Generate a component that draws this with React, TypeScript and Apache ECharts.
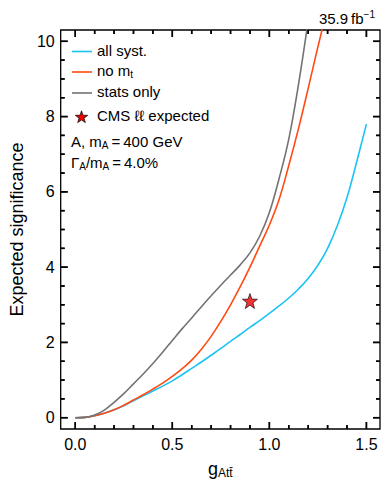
import React, { useEffect, useRef } from "react";
import * as echarts from "echarts";

const gStats = [0, 0.05, 0.1, 0.15, 0.2, 0.25, 0.3, 0.35, 0.4, 0.45, 0.5, 0.55, 0.6, 0.65, 0.7, 0.75, 0.8, 0.85, 0.9, 0.95, 1.0, 1.05, 1.1, 1.15, 1.2];
const statsOnly = [0, 0.01, 0.07, 0.2, 0.41, 0.64, 0.9, 1.16, 1.44, 1.74, 2.05, 2.36, 2.65, 2.95, 3.24, 3.52, 3.79, 4.06, 4.38, 4.82, 5.45, 6.35, 7.4, 8.85, 10.55];

const gNoMt = [0, 0.05, 0.1, 0.15, 0.2, 0.25, 0.3, 0.35, 0.4, 0.45, 0.5, 0.55, 0.6, 0.65, 0.7, 0.75, 0.8, 0.85, 0.9, 0.95, 1.0, 1.05, 1.1, 1.15, 1.2, 1.25, 1.3];
const noMt = [0, 0.01, 0.05, 0.12, 0.21, 0.33, 0.47, 0.61, 0.76, 0.92, 1.1, 1.3, 1.53, 1.82, 2.16, 2.56, 3.0, 3.48, 4.0, 4.56, 5.12, 5.8, 6.7, 7.68, 8.75, 9.85, 10.9];

const gAll = [0, 0.05, 0.1, 0.15, 0.2, 0.25, 0.3, 0.35, 0.4, 0.45, 0.5, 0.55, 0.6, 0.65, 0.7, 0.75, 0.8, 0.85, 0.9, 0.95, 1.0, 1.05, 1.1, 1.15, 1.2, 1.25, 1.3, 1.35, 1.4, 1.45, 1.5];
const allSyst = [0, 0.01, 0.05, 0.12, 0.21, 0.32, 0.45, 0.58, 0.71, 0.84, 0.98, 1.14, 1.31, 1.48, 1.66, 1.84, 2.03, 2.21, 2.4, 2.58, 2.77, 2.97, 3.18, 3.42, 3.7, 4.05, 4.5, 5.1, 5.85, 6.8, 7.8];

const cmsPoint = [0.9, 3.1];

const xMajor = [0, 0.5, 1.0, 1.5];
const xMinor = [0.1, 0.2, 0.3, 0.4, 0.6, 0.7, 0.8, 0.9, 1.1, 1.2, 1.3, 1.4];
const yMajor = [0, 2, 4, 6, 8, 10];
const yMinor = [0.5, 1, 1.5, 2.5, 3, 3.5, 4.5, 5, 5.5, 6.5, 7, 7.5, 8.5, 9, 9.5];

const legendNames = ["all syst.", "no m", "stats only", "CMS \u2113\u2113 expected"];
const colors = { all: "#1ec3f5", noMt: "#ff4a12", stats: "#737373", star: "#ee0000" };

const FONT = "'Liberation Sans', Arial, Helvetica, sans-serif";
const STAR = "path://M0,-10L2.35,-3.24L9.51,-3.09L3.8,1.24L5.88,8.09L0,4L-5.88,8.09L-3.8,1.24L-9.51,-3.09L-2.35,-3.24Z";

const pairs = (xs: number[], ys: number[]) => xs.map((x, i) => [x, ys[i]]);

export default function App() {
  const ref = useRef<HTMLDivElement>(null);
  useEffect(() => {
    if (!ref.current) return;
    const chart = echarts.init(ref.current, null, { renderer: "svg" });
    const W = 391, H = 486;
    const L = 58, R = 380, T = 30, B = 429;
    const XMIN = -0.075, XMAX = 1.57, YMIN = -0.3, YMAX = 10.3;

    const tickLine = (x1: number, y1: number, x2: number, y2: number) => ({
      type: "line", shape: { x1, y1, x2, y2 }, style: { stroke: "#000", lineWidth: 1.5 },
    });
    const xTickSeries = (vals: number[], len: number) => ({
      type: "custom", xAxisIndex: 0, yAxisIndex: 0, clip: false, silent: true, z: 6,
      data: vals.map((v) => [v, YMIN]),
      renderItem: (params: any, api: any) => {
        const v = api.value(0);
        const pb = api.coord([v, YMIN]);
        const pt = api.coord([v, YMAX]);
        return {
          type: "group",
          children: [tickLine(pb[0], pb[1], pb[0], pb[1] - len), tickLine(pt[0], pt[1], pt[0], pt[1] + len)],
        };
      },
    });
    const yTickSeries = (vals: number[], len: number) => ({
      type: "custom", xAxisIndex: 0, yAxisIndex: 0, clip: false, silent: true, z: 6,
      data: vals.map((v) => [XMIN, v]),
      renderItem: (params: any, api: any) => {
        const v = api.value(1);
        const pl = api.coord([XMIN, v]);
        const pr = api.coord([XMAX, v]);
        return {
          type: "group",
          children: [tickLine(pl[0], pl[1], pl[0] + len, pl[1]), tickLine(pr[0], pr[1], pr[0] - len, pr[1])],
        };
      },
    });

    const richBase = {
      b: { fontSize: 15, fontFamily: FONT, fill: "#000" },
      s: { fontSize: 10, fontFamily: FONT, fill: "#000", padding: [7, 0, 0, 0] },
    };
    const legendRows = [51.5, 72, 93, 117];
    const legendColors = [colors.all, colors.noMt, colors.stats];
    const baseGraphics: any[] = [];
    legendColors.forEach((c, i) => {
      baseGraphics.push({
        type: "line", shape: { x1: 72, y1: legendRows[i], x2: 92, y2: legendRows[i] },
        style: { stroke: c, lineWidth: 1.6 },
      });
    });
    baseGraphics.push({
      type: "group", left: 75, top: legendRows[3] - 6.5,
      children: [
        { type: "polygon", shape: { points: [[6.5, 0], [8.03, 4.4], [12.68, 4.49], [8.97, 7.3], [10.32, 11.76], [6.5, 9.1], [2.68, 11.76], [4.03, 7.3], [0.32, 4.49], [4.97, 4.4]] },
          style: { fill: colors.star, stroke: "#000", lineWidth: 0.7 } },
      ],
    });
    const legendTexts = ["{b|" + legendNames[0] + "}", "{b|" + legendNames[1] + "}{s|t}", "{b|" + legendNames[2] + "}", "{b|" + legendNames[3] + "}"];
    legendTexts.forEach((t, i) => {
      baseGraphics.push({
        type: "text", left: 97, top: legendRows[i] - 9,
        style: { text: t, fontFamily: FONT, fill: "#000", rich: richBase },
      });
    });
    baseGraphics.push(
      {
        type: "text", right: 16, top: 9,
        style: {
          text: "{a|35.9\u2009fb}{b|\u22121}",
          fontFamily: FONT, fill: "#000",
          rich: {
            a: { fontSize: 15, fontFamily: FONT, fill: "#000" },
            b: { fontSize: 10, fontFamily: FONT, fill: "#000", padding: [0, 0, 8, 0] },
          },
        },
      },
      {
        type: "text", left: 71, top: 134,
        style: { text: "{b|A, m}{s|A}{b|\u2009=\u2009400 GeV}", fontFamily: FONT, fill: "#000", rich: richBase },
      },
      {
        type: "text", left: 71, top: 155,
        style: { text: "{b|\u0393}{s|A}{b|/m}{s|A}{b|\u2009=\u20094.0%}", fontFamily: FONT, fill: "#000", rich: richBase },
      }
    );

    chart.setOption({
      animation: false,
      grid: { left: L, right: W - R, top: T, bottom: H - B, show: true, borderColor: "#000", borderWidth: 1.3, backgroundColor: "rgba(0,0,0,0)" },
      xAxis: {
        type: "value", min: XMIN, max: XMAX,
        axisLine: { show: false, onZero: false }, splitLine: { show: false }, axisTick: { show: false },
        axisLabel: { show: true, customValues: xMajor, formatter: (v: number) => v.toFixed(1), fontSize: 16, color: "#000", fontFamily: FONT, margin: 7 },
        name: "{g|g}{s|Att\u0304}",
        nameLocation: "middle",
        nameGap: 30,
        nameTextStyle: {
          fontFamily: FONT, color: "#000",
          rich: {
            g: { fontSize: 18, fontFamily: FONT, color: "#000" },
            s: { fontSize: 12, fontFamily: FONT, color: "#000", padding: [8, 0, 0, 0] },
          },
        },
      },
      yAxis: {
        type: "value", min: YMIN, max: YMAX,
        axisLine: { show: false, onZero: false }, splitLine: { show: false }, axisTick: { show: false },
        axisLabel: { show: true, customValues: yMajor, formatter: (v: number) => String(v), fontSize: 16, color: "#000", fontFamily: FONT, margin: 6 },
        name: "Expected significance",
        nameLocation: "middle",
        nameGap: 31,
        nameTextStyle: { fontSize: 18, fontFamily: FONT, color: "#000" },
      },
      graphic: baseGraphics,
      series: [
        xTickSeries(xMajor, 7),
        xTickSeries(xMinor, 4),
        yTickSeries(yMajor, 7),
        yTickSeries(yMinor, 4),
        {
          name: "all syst.", type: "line", data: pairs(gAll, allSyst), smooth: 0.4,
          showSymbol: false, symbol: "none", clip: true,
          lineStyle: { color: colors.all, width: 1.6 }, itemStyle: { color: colors.all }, z: 3,
        },
        {
          name: "no mt", type: "line", data: pairs(gNoMt, noMt), smooth: 0.4,
          showSymbol: false, symbol: "none", clip: true,
          lineStyle: { color: colors.noMt, width: 1.6 }, itemStyle: { color: colors.noMt }, z: 3,
        },
        {
          name: "stats only", type: "line", data: pairs(gStats, statsOnly), smooth: 0.4,
          showSymbol: false, symbol: "none", clip: true,
          lineStyle: { color: colors.stats, width: 1.6 }, itemStyle: { color: colors.stats }, z: 3,
        },
        {
          name: "CMS \u2113\u2113 expected", type: "scatter", data: [cmsPoint], symbol: STAR, symbolSize: 15,
          itemStyle: { color: colors.star, borderColor: "#000", borderWidth: 0.8 }, z: 5,
        },
      ],
    });

    const toX = (v: number) => chart.convertToPixel({ xAxisIndex: 0 }, v) as number;
    const toY = (v: number) => chart.convertToPixel({ yAxisIndex: 0 }, v) as number;
    const left = toX(XMIN), right = toX(XMAX), bottom = toY(YMIN), top = toY(YMAX);
    const tickGraphics: any[] = [];
    if ([left, right, bottom, top].every((n) => typeof n === "number" && isFinite(n))) {
      const tick = (x1: number, y1: number, x2: number, y2: number) => ({
        type: "line", z: 100, silent: true,
        shape: { x1, y1, x2, y2 }, style: { stroke: "#000", lineWidth: 1.5 },
      });
      const addX = (vals: number[], len: number) => vals.forEach((v) => {
        const px = toX(v);
        tickGraphics.push(tick(px, bottom, px, bottom - len), tick(px, top, px, top + len));
      });
      const addY = (vals: number[], len: number) => vals.forEach((v) => {
        const py = toY(v);
        tickGraphics.push(tick(left, py, left + len, py), tick(right, py, right - len, py));
      });
      addX(xMajor, 7);
      addX(xMinor, 4);
      addY(yMajor, 7);
      addY(yMinor, 4);
      chart.setOption({ graphic: [...baseGraphics, ...tickGraphics] });
    }

    return () => chart.dispose();
  }, []);
  return <div ref={ref} style={{ width: 391, height: 486, position: "absolute", left: 0, top: 0 }} />;
}
